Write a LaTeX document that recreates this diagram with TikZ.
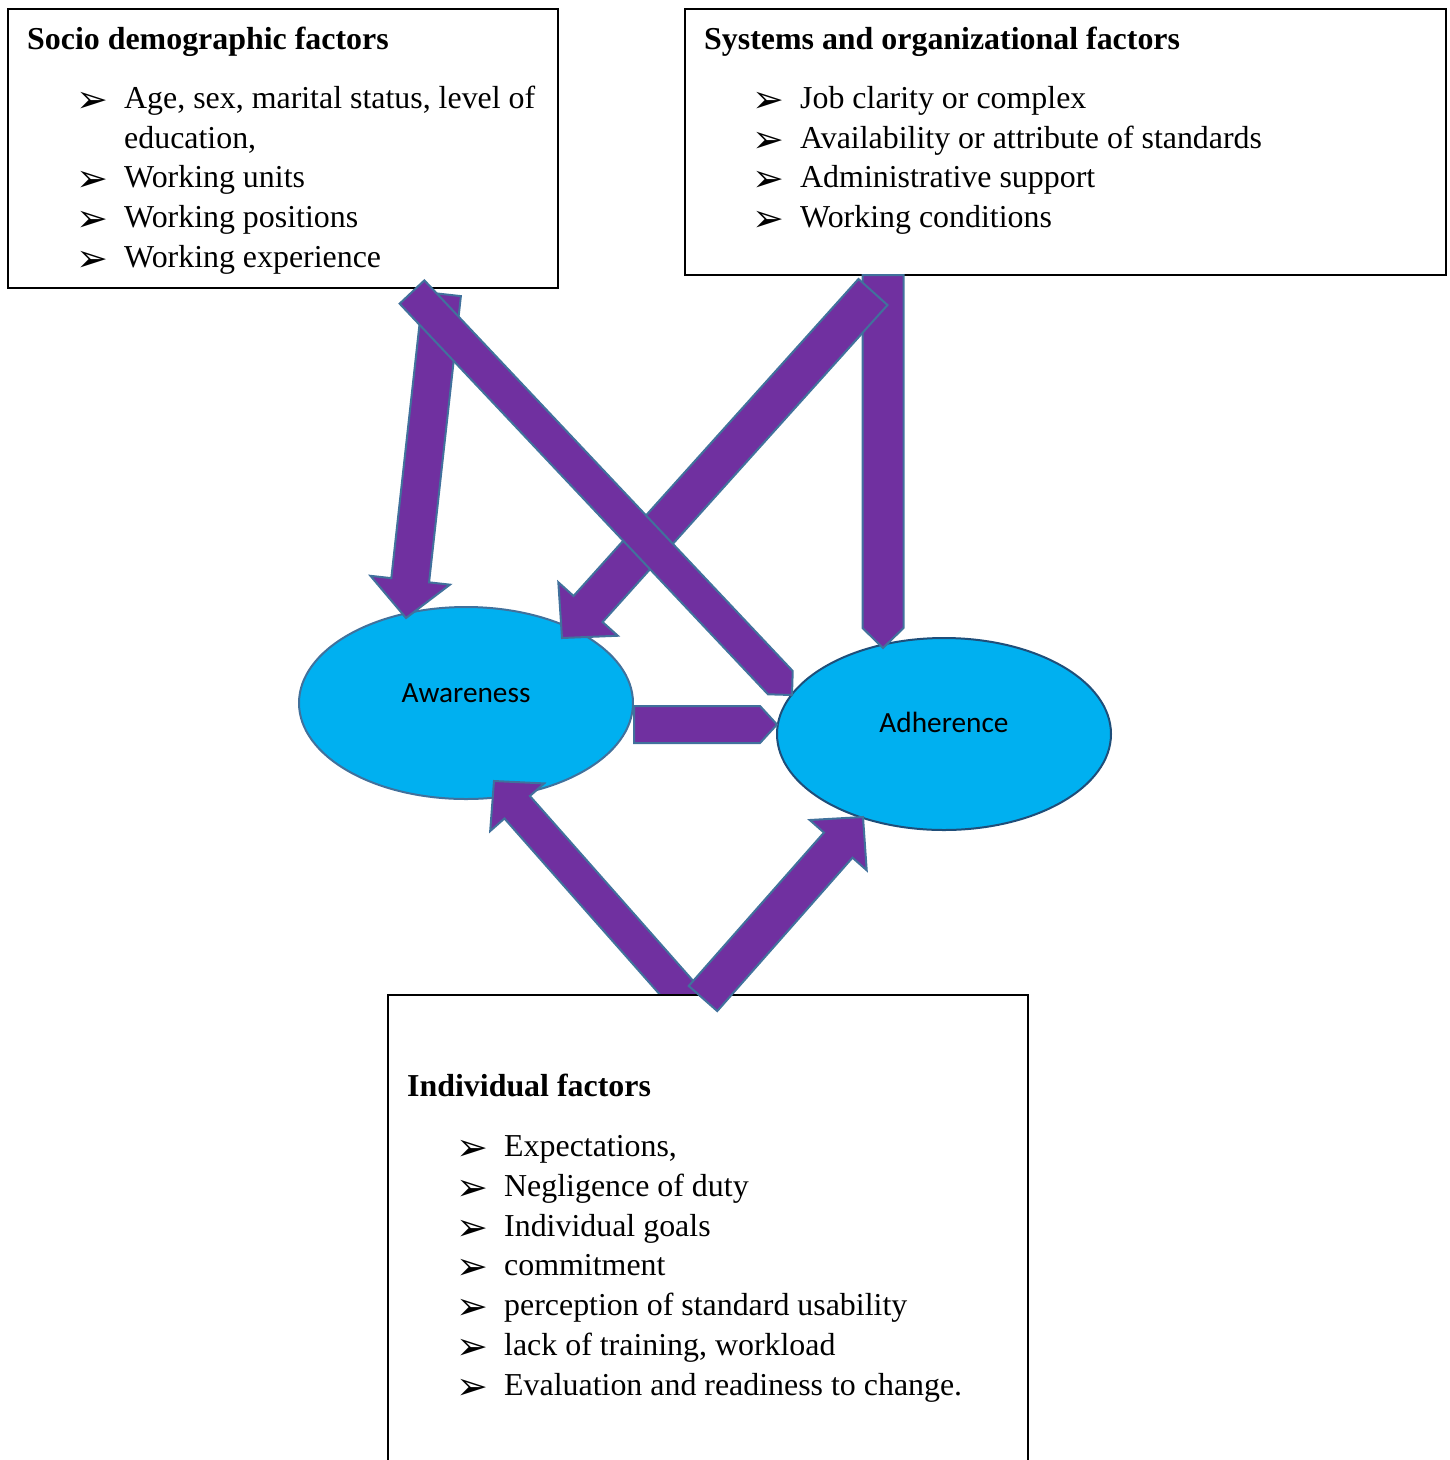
\documentclass[tikz,border=0pt]{standalone}
\usepackage{fontspec}
\setmainfont{Liberation Serif}
\newfontfamily\calibfont{Carlito}
\newfontfamily\dejavufont{DejaVu Sans}
\usetikzlibrary{calc,shapes.geometric}
\definecolor{arrowfill}{HTML}{7030A0}
\definecolor{arrowline}{HTML}{41719C}
\definecolor{ellfill}{HTML}{00B0F0}
\definecolor{ellineA}{HTML}{41719C}
\definecolor{ellineB}{HTML}{1F4E79}
\tikzset{
  factorbox/.style={draw=black, line width=1.5pt, fill=white, anchor=north west, inner sep=0pt},
  fbtitle/.style={anchor=base west, inner sep=0pt, font=\fontsize{31.9pt}{39.7pt}\selectfont\bfseries},
  fbitem/.style={anchor=base west, inner sep=0pt, font=\fontsize{31.9pt}{39.7pt}\selectfont},
  fbbullet/.style={anchor=base west, inner sep=0pt, font=\fontsize{38pt}{40pt}\selectfont\dejavufont},
  ellnode/.style={ellipse, fill=ellfill, line width=2pt, inner sep=0pt},
  elltext/.style={font=\fontsize{29.3pt}{35pt}\selectfont\calibfont, anchor=base, inner sep=0pt},
  blockarrowstyle/.style={fill=arrowfill, draw=arrowline, line width=2pt, line join=miter},
}
% block arrow: start, end, shaft half width, head half width, head length
\newcommand\blockarrow[5]{%
  \coordinate (ba-h) at ($(#2)!#5!(#1)$);
  \draw[blockarrowstyle] ($(#1)!#3!90:(#2)$) -- ($(ba-h)!#3!-90:(#1)$) -- ($(ba-h)!#4!-90:(#1)$) -- (#2)
    -- ($(ba-h)!#4!90:(#1)$) -- ($(ba-h)!#3!90:(#1)$) -- ($(#1)!#3!-90:(#2)$) -- cycle;
}
% bullet + text line
\newcommand\itemline[4]{%
  \node[fbbullet] (#1-b) at ($(#2,#3)+(-2,4)$) {➢};
  \node[fbitem] (#1) at ($(#2,#3)+(46,0)$) {#4};
}
\begin{document}
\begin{tikzpicture}[x=1pt,y=-1pt]
\useasboundingbox (0,0) rectangle (1450,1460);

% top boxes
\node[factorbox, minimum width=550pt, minimum height=279pt] (socio) at (7,8) {};
\node[factorbox, minimum width=761pt, minimum height=266pt] (sys) at (684,8) {};

\node[fbtitle] (socio-t) at (27,49) {Socio demographic factors};
\itemline{s1}{78}{108}{Age, sex, marital status, level of}
\node[fbitem] (s1b) at (124,148) {education,};
\itemline{s2}{78}{187}{Working units}
\itemline{s3}{78}{227}{Working positions}
\itemline{s4}{78}{267}{Working experience}

\node[fbtitle] (sys-t) at (704,49) {Systems and organizational factors};
\itemline{y1}{754}{108}{Job clarity or complex}
\itemline{y2}{754}{148}{Availability or attribute of standards}
\itemline{y3}{754}{187}{Administrative support}
\itemline{y4}{754}{227}{Working conditions}

% ellipses
\node[ellnode, draw=ellineA, minimum width=334pt, minimum height=192pt] (aw) at (466,703) {};
\node[ellnode, draw=ellineB, minimum width=334pt, minimum height=192pt] (ad) at (944,734) {};
\node[elltext] (aw-t) at ($(aw.center)+(0,-1)$) {Awareness};
\node[elltext] (ad-t) at ($(ad.center)+(0,-2)$) {Adherence};

% arrow end points
\coordinate (a1s) at (442,294);  \coordinate (a1e) at (406,618);
\coordinate (a2s) at (412,292);  \coordinate (a2e) at (792,695);
\coordinate (a3s) at (873,292);  \coordinate (a3e) at (562,638);
\coordinate (a4s) at (883,275);  \coordinate (a4e) at (883,648);
\coordinate (a5s) at ($(aw.east)+(0,21.5)$);  \coordinate (a5e) at (777,724.5);
\coordinate (a6s) at (690,1003); \coordinate (a6e) at (494,781);
\coordinate (a7s) at (703,998.5);\coordinate (a7e) at (863,817);

\blockarrow{a1s}{a1e}{19pt}{40pt}{38pt}
\blockarrow{a4s}{a4e}{20.5pt}{20.5pt}{20pt}
\blockarrow{a3s}{a3e}{19.5pt}{40pt}{39pt}
\blockarrow{a2s}{a2e}{17pt}{17pt}{17pt}
\blockarrow{a5s}{a5e}{18.5pt}{18.5pt}{17pt}
\blockarrow{a6s}{a6e}{17pt}{36pt}{35pt}

% bottom box
\node[factorbox, minimum width=640pt, minimum height=475pt] (ind) at (387,994) {};
\node[fbtitle] (ind-t) at (407,1096) {Individual factors};
\itemline{i1}{458}{1156}{Expectations,}
\itemline{i2}{458}{1196}{Negligence of duty}
\itemline{i3}{458}{1236}{Individual goals}
\itemline{i4}{458}{1275}{commitment}
\itemline{i5}{458}{1315}{perception of standard usability}
\itemline{i6}{458}{1355}{lack of training, workload}
\itemline{i7}{458}{1395}{Evaluation and readiness to change.}

\blockarrow{a7s}{a7e}{19pt}{38pt}{37.5pt}
\end{tikzpicture}
\end{document}
